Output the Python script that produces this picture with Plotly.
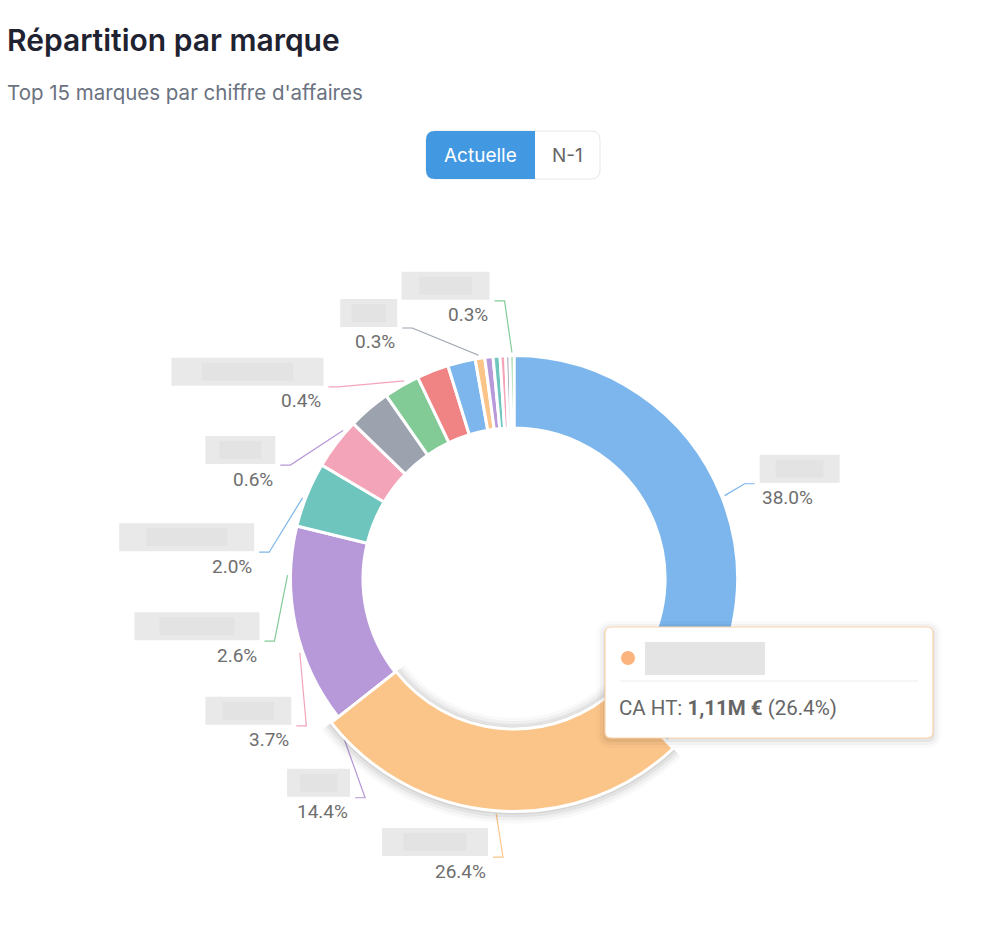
import math
import plotly.graph_objects as go

# ---------------- data ----------------
# Brand names are blurred in the source, so generic ids are used internally (never displayed).
brands = [f"Marque {i:02d}" for i in range(1, 16)]
revenue_keur = [1598, 1110, 606, 198, 156, 130, 109, 97, 84, 29, 25, 21, 17, 13, 12]
label_visible = [True, True, True, False, True, False, True, False, True, False, True, False, True, True, True]
slice_colors = ["#7cb6ec", "#fbc589", "#b799d9", "#6ec5be", "#f4a4b9", "#9ca3af", "#82cb97", "#f08383",
                "#7cb6ec", "#fbc589", "#b799d9", "#6ec5be", "#f4a4b9", "#9ca3af", "#82cb97"]
hidden_name_width = [80, 106, 63, 0, 86, 0, 125, 0, 135, 0, 70, 0, 152, 57, 88]
highlight_index = 1

title_text = "Répartition par marque"
subtitle_text = "Top 15 marques par chiffre d'affaires"
toggle_labels = ["Actuelle", "N-1"]
tooltip_metric = "CA HT"

# ---------------- layout constants ----------------
W, H = 1005, 945
CX, CY = 514, 579
R_OUT, R_IN = 223.5, 151
EMPH = 9
LAB_RX, LAB_RY = 256, 279
LAB_GAP, LAB_TOP, LINE_OFF, ELBOW = 20, 356, 15, 10
FONT = "Roboto"

n = len(revenue_keur)
total = sum(revenue_keur)
pcts = [v / total * 100 for v in revenue_keur]
mids = []
cum = 0
for v in revenue_keur:
    mids.append((cum + v / 2) / total * 360)
    cum += v


def dom(r):
    return dict(x=[(CX - r) / W, (CX + r) / W], y=[1 - (CY + r) / H, 1 - (CY - r) / H])


def polar(a, r):
    t = math.radians(a)
    return CX + r * math.sin(t), CY - r * math.cos(t)


def ellipse(a):
    t = math.radians(a)
    rho = 1 / math.sqrt((math.sin(t) / LAB_RX) ** 2 + (math.cos(t) / LAB_RY) ** 2)
    return polar(a, rho)


def rrect(x0, y0, x1, y1, r, corners=(1, 1, 1, 1)):
    tl, tr, br, bl = [r * c for c in corners]
    return (f"M {x0+tl},{y0} L {x1-tr},{y0} Q {x1},{y0} {x1},{y0+tr} L {x1},{y1-br} "
            f"Q {x1},{y1} {x1-br},{y1} L {x0+bl},{y1} Q {x0},{y1} {x0},{y1-bl} L {x0},{y0+tl} "
            f"Q {x0},{y0} {x0+tl},{y0} Z")


fig = go.Figure()
shapes = []
annotations = []

# ---------------- label layout (ECharts-like stacking) ----------------
shown = [i for i in range(n) if label_visible[i]]
left = sorted([i for i in shown if mids[i] >= 180], key=lambda i: -mids[i])
right = [i for i in shown if mids[i] < 180]
lab_angle = {}
prev = None
for i in left:
    lab_angle[i] = min(mids[i], LAB_TOP if prev is None else prev - LAB_GAP)
    prev = lab_angle[i]
for i in right:
    lab_angle[i] = mids[i]

for i in shown:
    a = lab_angle[i]
    side = 1 if a < 180 else -1
    start_a = mids[i] if side == 1 else min(mids[i], a + LINE_OFF)
    r0 = (R_OUT + EMPH + 3) if i == highlight_index else (R_OUT + 3)
    sx, sy = polar(start_a, r0)
    ex, ey = ellipse(a)
    bx = ex - side * ELBOW
    fig.add_trace(go.Scatter(x=[sx, bx, ex], y=[sy, ey, ey], mode="lines",
                             line=dict(color=slice_colors[i], width=1.2),
                             hoverinfo="skip", showlegend=False))
    tx = ex + side * 5
    w = hidden_name_width[i]
    shapes.append(dict(type="rect", xref="x", yref="y", x0=tx, x1=tx + side * w, y0=ey - 29, y1=ey - 1,
                       fillcolor="#e9e9e9", line=dict(width=0), layer="above"))
    shapes.append(dict(type="rect", xref="x", yref="y", x0=tx + side * w * 0.2, x1=tx + side * w * 0.8,
                       y0=ey - 24, y1=ey - 6, fillcolor="rgba(0,0,0,0.025)", line=dict(width=0), layer="above"))
    annotations.append(dict(x=tx, y=ey + 14, xref="x", yref="y", text=f"{pcts[i]:.1f}%",
                            showarrow=False, xanchor="left" if side == 1 else "right", yanchor="middle",
                            font=dict(family=FONT, size=19, color="#6e6e6e")))

# ---------------- donut ----------------
fig.add_trace(go.Pie(values=revenue_keur, labels=brands, sort=False, direction="clockwise", rotation=0,
                     hole=R_IN / R_OUT, domain=dom(R_OUT), textinfo="none", hoverinfo="skip",
                     marker=dict(colors=slice_colors, line=dict(color="white", width=3)),
                     showlegend=False))

# hover emphasis: soft shadow + enlarged highlighted slice
for s, alpha in [(12, 0.025), (9, 0.035), (6, 0.05), (3, 0.06)]:
    r = R_OUT + EMPH + s
    cols = ["rgba(0,0,0,0)"] * n
    cols[highlight_index] = f"rgba(0,0,0,{alpha})"
    fig.add_trace(go.Pie(values=revenue_keur, labels=brands, sort=False, direction="clockwise", rotation=0,
                         hole=(R_IN - s) / r, domain=dom(r), textinfo="none", hoverinfo="skip",
                         marker=dict(colors=cols, line=dict(width=0)), showlegend=False))
r_em = R_OUT + EMPH
cols = ["rgba(0,0,0,0)"] * n
cols[highlight_index] = slice_colors[highlight_index]
lcols = ["rgba(0,0,0,0)"] * n
lcols[highlight_index] = "white"
fig.add_trace(go.Pie(values=revenue_keur, labels=brands, sort=False, direction="clockwise", rotation=0,
                     hole=(R_IN - 1) / r_em, domain=dom(r_em), textinfo="none", hoverinfo="skip",
                     marker=dict(colors=cols, line=dict(color=lcols, width=3)), showlegend=False))

# ---------------- header ----------------
annotations.append(dict(x=5, y=40, xref="x", yref="y", text=title_text, showarrow=False,
                        xanchor="left", yanchor="middle",
                        font=dict(family="Inter", size=30, color="#1f2230", weight=600)))
annotations.append(dict(x=5, y=92, xref="x", yref="y", text=subtitle_text, showarrow=False,
                        xanchor="left", yanchor="middle",
                        font=dict(family="Inter", size=20.5, color="#6b7280")))

# toggle buttons
bx0, bx1, bxm, by0, by1 = 426, 600, 535, 131, 179
shapes.append(dict(type="path", xref="x", yref="y", path=rrect(bx0, by0, bx1, by1, 9),
                   fillcolor="white", line=dict(color="#e5e7eb", width=1), layer="above"))
shapes.append(dict(type="path", xref="x", yref="y", path=rrect(bx0, by0, bxm, by1, 9, (1, 0, 0, 1)),
                   fillcolor="#4299e1", line=dict(width=0), layer="above"))
annotations.append(dict(x=(bx0 + bxm) / 2, y=(by0 + by1) / 2, xref="x", yref="y", text=toggle_labels[0],
                        showarrow=False, font=dict(family="Inter", size=19, color="white")))
annotations.append(dict(x=(bxm + bx1) / 2, y=(by0 + by1) / 2, xref="x", yref="y", text=toggle_labels[1],
                        showarrow=False, font=dict(family="Inter", size=19, color="#666666")))

# ---------------- tooltip ----------------
tx0, ty0, tx1, ty1 = 605, 627, 933, 738
for s, alpha in [(8, 0.02), (5, 0.03), (2, 0.05)]:
    shapes.append(dict(type="path", xref="x", yref="y",
                       path=rrect(tx0 - s, ty0 - s + 2, tx1 + s, ty1 + s + 2, 6 + s),
                       fillcolor=f"rgba(0,0,0,{alpha})", line=dict(width=0), layer="above"))
shapes.append(dict(type="path", xref="x", yref="y", path=rrect(tx0, ty0, tx1, ty1, 6),
                   fillcolor="white", line=dict(color="#fbd3aa", width=1.2), layer="above"))
shapes.append(dict(type="circle", xref="x", yref="y", x0=621, x1=635, y0=651, y1=665,
                   fillcolor="#fcb47e", line=dict(width=0), layer="above"))
shapes.append(dict(type="rect", xref="x", yref="y", x0=645, x1=765, y0=642, y1=675,
                   fillcolor="#e4e4e4", line=dict(width=0), layer="above"))
shapes.append(dict(type="line", xref="x", yref="y", x0=620, x1=918, y0=681, y1=681,
                   line=dict(color="#eeeeee", width=1), layer="above"))
hv = revenue_keur[highlight_index] / 1000
hv_txt = f"{hv:.2f}".replace(".", ",") + "M €"
annotations.append(dict(x=617, y=708, xref="x", yref="y", xanchor="left", yanchor="middle", showarrow=False,
                        text=f"{tooltip_metric}: <b>{hv_txt}</b> ({pcts[highlight_index]:.1f}%)",
                        font=dict(family=FONT, size=20.5, color="#666666")))

fig.update_layout(
    width=W, height=H, margin=dict(l=0, r=0, t=0, b=0),
    paper_bgcolor="white", plot_bgcolor="rgba(0,0,0,0)",
    xaxis=dict(range=[0, W], visible=False, fixedrange=True),
    yaxis=dict(range=[H, 0], visible=False, fixedrange=True),
    shapes=shapes, annotations=annotations, showlegend=False,
)
fig.write_html("out.html", config={"displayModeBar": False},
               post_script="document.body.style.margin='0';")
